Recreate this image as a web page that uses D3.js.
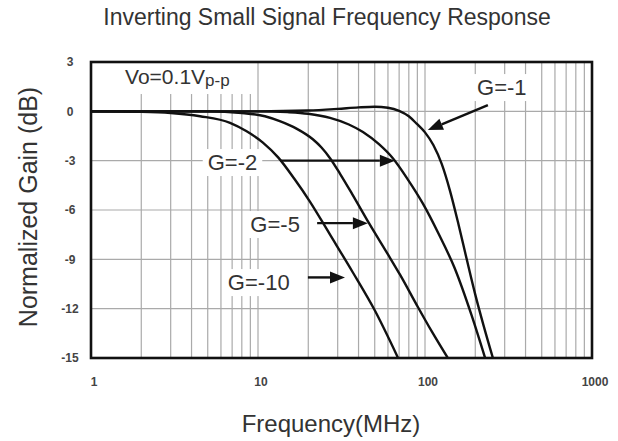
<!DOCTYPE html>
<html>
<head>
<meta charset="utf-8">
<script src="https://cdn.jsdelivr.net/npm/d3@7"></script>
<style>
  body { margin: 0; background: #fff; }
  text { font-family: "Liberation Sans", Arial, sans-serif; }
</style>
</head>
<body>
<div id="chart"></div>
<script>
// Data (frequency in MHz, gain in dB)
const freqTicks = [1, 10, 100, 1000];
const gainTicks = [3, 0, -3, -6, -9, -12, -15];

const g1Freq = [1, 10, 20, 30, 40, 50, 60, 70, 80, 89.1, 100, 112.2, 125.9, 141.3, 158.5, 177.8, 199.5, 223.9, 255];
const g1Gain = [0, 0, 0.05, 0.15, 0.24, 0.28, 0.22, 0.03, -0.3, -0.75, -1.28, -2.05, -3.2, -4.85, -6.85, -9.0, -11.1, -13.0, -15];

const g2Freq = [1, 10, 15, 20, 27, 35, 42.5, 53, 64, 79, 97, 120, 150, 190, 229];
const g2Gain = [0, 0, -0.05, -0.15, -0.4, -0.8, -1.26, -2.0, -2.84, -4.15, -5.6, -7.4, -9.5, -12.4, -15];

const g5Freq = [1, 5, 8, 11, 13.5, 17, 21.3, 24, 27, 31, 36.5, 46.2, 60, 71, 89.5, 110, 137];
const g5Gain = [0, 0, -0.1, -0.3, -0.6, -1.05, -1.7, -2.2, -2.85, -3.8, -5.0, -6.8, -8.7, -9.95, -11.8, -13.4, -15];

const g10Freq = [1, 2, 3, 4.5, 6.8, 8.5, 10.7, 13.2, 16.5, 20.5, 27, 37, 50, 69];
const g10Gain = [0, -0.03, -0.1, -0.3, -0.7, -1.2, -1.9, -2.8, -4.1, -5.5, -7.5, -9.8, -12.1, -15];

const seriesNames = ["G=-1", "G=-2", "G=-5", "G=-10"];

// annotation anchors in data units: label at (f, dB), arrow from -> to
const labelFreq = [205, 5.0, 9.0, 6.6];
const labelGain = [0.99, -3.57, -7.34, -10.87];
const arrowFrom = [[238, 0.38], [13.6, -3], [22.6, -6.8], [19.9, -10.1]];
const arrowTo   = [[104, -1.14], [66, -3], [45.5, -6.8], [33.2, -10.1]];

const W = 618, H = 441;
const svg = d3.select("#chart").append("svg")
    .attr("width", W).attr("height", H);

const x = d3.scaleLog().domain([1, 1000]).range([91, 592]);
const y = d3.scaleLinear().domain([-15, 3]).range([358, 62]);

// grid
const minor = [];
for (let dec = 1; dec < 1000; dec *= 10) {
    for (let k = 1; k < 10; k++) if (dec * k > 1) minor.push(dec * k);
}
svg.append("g").selectAll("line")
    .data(minor)
    .join("line")
    .attr("x1", d => x(d)).attr("x2", d => x(d))
    .attr("y1", y(3)).attr("y2", y(-15))
    .attr("stroke", "#aaa").attr("stroke-width", 1.2);

svg.append("g").selectAll("line")
    .data(gainTicks.filter(d => d < 3 && d > -15))
    .join("line")
    .attr("x1", x(1)).attr("x2", x(1000))
    .attr("y1", d => y(d)).attr("y2", d => y(d))
    .attr("stroke", "#aaa").attr("stroke-width", 1.2);

// curves
const allSeries = [
    d3.zip(g1Freq, g1Gain),
    d3.zip(g2Freq, g2Gain),
    d3.zip(g5Freq, g5Gain),
    d3.zip(g10Freq, g10Gain)
];

svg.append("clipPath").attr("id", "clip")
    .append("rect")
    .attr("x", x(1)).attr("y", y(3))
    .attr("width", x(1000) - x(1)).attr("height", y(-15) - y(3));

const line = d3.line()
    .x(d => x(d[0]))
    .y(d => y(d[1]))
    .curve(d3.curveMonotoneX);

svg.append("g").attr("clip-path", "url(#clip)")
    .selectAll("path")
    .data(allSeries)
    .join("path")
    .attr("d", line)
    .attr("fill", "none")
    .attr("stroke", "#111")
    .attr("stroke-width", 2.4);

// labels with white background boxes
function addBox(g, t, padx, pady) {
    const b = t.node().getBBox();
    g.insert("rect", "text")
        .attr("x", b.x - padx).attr("y", b.y - pady)
        .attr("width", b.width + 2 * padx).attr("height", b.height + 2 * pady)
        .attr("fill", "#fff");
}

const labG = svg.append("g");
seriesNames.forEach((name, i) => {
    const g = labG.append("g");
    const t = g.append("text")
        .attr("x", x(labelFreq[i])).attr("y", y(labelGain[i]))
        .attr("font-size", 22)
        .attr("fill", "#333")
        .text(name);
    addBox(g, t, 5, 1);
});

// Vo label
const voG = labG.append("g");
const vo = voG.append("text")
    .attr("x", x(1.6)).attr("y", y(1.66))
    .attr("fill", "#333");
vo.append("tspan").attr("font-size", 21).text("Vo=0.1V");
vo.append("tspan").attr("font-size", 17).attr("dy", 2).text("p-p");
addBox(voG, vo, 24, 4);

// arrows
const arrowG = svg.append("g");
arrowFrom.forEach((a, i) => {
    const x1 = x(a[0]), y1 = y(a[1]);
    const x2 = x(arrowTo[i][0]), y2 = y(arrowTo[i][1]);
    const ang = Math.atan2(y2 - y1, x2 - x1);
    const len = 15, half = 6;
    const bx = x2 - len * Math.cos(ang), by = y2 - len * Math.sin(ang);
    arrowG.append("line")
        .attr("x1", x1).attr("y1", y1).attr("x2", bx).attr("y2", by)
        .attr("stroke", "#111").attr("stroke-width", 2.4);
    const px = -Math.sin(ang) * half, py = Math.cos(ang) * half;
    arrowG.append("path")
        .attr("d", `M${x2},${y2}L${bx + px},${by + py}L${bx - px},${by - py}Z`)
        .attr("fill", "#111");
});

// frame
svg.append("rect")
    .attr("x", x(1)).attr("y", y(3))
    .attr("width", x(1000) - x(1)).attr("height", y(-15) - y(3))
    .attr("fill", "none").attr("stroke", "#111").attr("stroke-width", 2.6);

// tick labels
svg.append("g").selectAll("text")
    .data(gainTicks)
    .join("text")
    .attr("x", 70).attr("y", d => y(d))
    .attr("dy", "0.35em")
    .attr("text-anchor", "middle")
    .attr("font-size", 12)
    .attr("font-weight", "bold")
    .attr("fill", "#444")
    .text(d => d);

svg.append("g").selectAll("text")
    .data(freqTicks)
    .join("text")
    .attr("x", d => x(d) + 3).attr("y", 386)
    .attr("text-anchor", "middle")
    .attr("font-size", 12)
    .attr("font-weight", "bold")
    .attr("fill", "#444")
    .text(d => d);

// titles
svg.append("text")
    .attr("x", 327).attr("y", 25)
    .attr("text-anchor", "middle")
    .attr("font-size", 23)
    .attr("fill", "#333")
    .text("Inverting Small Signal Frequency Response");

svg.append("text")
    .attr("transform", "translate(37,207) rotate(-90)")
    .attr("text-anchor", "middle")
    .attr("font-size", 25)
    .attr("fill", "#333")
    .text("Normalized Gain (dB)");

svg.append("text")
    .attr("x", 331).attr("y", 432)
    .attr("text-anchor", "middle")
    .attr("font-size", 24)
    .attr("fill", "#333")
    .text("Frequency(MHz)");
</script>
</body>
</html>
